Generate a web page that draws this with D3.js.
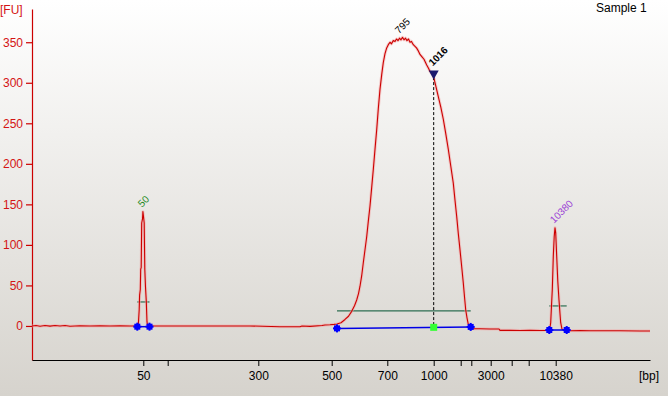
<!DOCTYPE html>
<html>
<head>
<meta charset="utf-8">
<script src="https://cdn.jsdelivr.net/npm/d3@7"></script>
<style>
  html, body { margin: 0; padding: 0; background: #fff; }
  svg { display: block; }
</style>
</head>
<body>
<svg id="chart" width="668" height="396"></svg>
<script>
// ---- Data ----
// Migration time (s) and fluorescence (FU) of the electropherogram trace
const traceTime = [
  18.0, 18.4, 18.8, 19.3, 19.8, 20.3, 20.8, 21.3, 21.8, 22.8, 23.8, 24.8, 25.8, 26.8, 27.8, 28.4,
  28.63, 28.72, 28.76, 28.83, 28.87, 28.92, 28.97, 29.05, 29.09, 29.15, 29.22, 29.28, 29.35, 29.43, 29.50, 29.56,
  29.8, 30.8, 34.8, 39.8, 42.8, 44.8, 45.0, 45.8, 47.0, 47.3, 47.8, 48.2, 48.5, 48.9, 49.3, 49.65,
  49.97, 50.25, 50.47, 50.65, 50.8, 50.97, 51.13, 51.3, 51.47, 51.63, 51.8, 51.97, 52.13, 52.3, 52.47, 52.63,
  52.8, 52.97, 53.13, 53.3, 53.47, 53.63, 53.8, 53.95, 54.13, 54.3, 54.45, 54.6, 54.75, 54.9, 55.05, 55.2,
  55.35, 55.5, 55.65, 55.8, 55.95, 56.13, 56.3, 56.45, 56.6, 56.8, 57.0, 57.2, 57.47, 57.65, 57.8, 58.0,
  58.17, 58.4, 58.63, 58.88, 59.13, 59.38, 59.63, 59.88, 60.13, 60.3, 60.47, 60.63, 60.8, 60.97, 61.13, 61.25,
  61.37, 61.5, 61.63, 61.8, 62.0, 62.8, 63.8, 64.7, 64.8, 65.8, 66.8, 67.8, 68.8, 69.5, 69.7, 69.82,
  69.87, 69.95, 70.03, 70.13, 70.22, 70.3, 70.37, 70.47, 70.58, 70.7, 70.8, 70.87, 71.0, 71.4, 71.8, 72.8,
  73.8, 74.8, 76.8, 78.8, 79.8
];
const traceFU = [
  0, 0.5, -0.3, 0.6, -0.2, 0.5, 0.0, 0.6, -0.3, 0.2, 0.0, 0.3, 0, 0.1, 0, 0,
  1, 20, 38, 45, 70, 72, 127, 132, 141, 135, 127, 70, 48, 30, 5, 0.5,
  0, 0, 0, 0, -1, -1, 0, -0.5, 0.5, 1.2, 1.5, 2, 2.5, 4, 8, 12,
  18, 25, 32, 40, 49, 62, 78, 94, 110, 129, 148, 171, 193, 218, 242, 268,
  292, 310, 325, 336, 343, 347, 350, 348, 352, 351, 354, 352, 355, 353, 356, 353,
  355, 352, 354, 350, 351, 347, 345, 343, 340, 335, 332, 329, 322, 318, 314, 311,
  307, 295, 283, 270, 255, 237, 218, 197, 176, 155, 135, 114, 94, 73, 53, 36,
  20, 10, 2, -1, -3.5, -3.5, -3.8, -3.7, -5.4, -5.4, -5.6, -5.3, -5.7, -5.4, -5.2, 0,
  4, 25, 45, 86, 110, 121, 115, 86, 55, 32, 15, 4, -4, -5.6, -6, -5.7,
  -6, -5.9, -6, -6.2, -6.2
];

// Ladder (bp) and its migration times; only some are labelled
const ladderBp = [50, 100, 300, 500, 700, 1000, 1500, 2000, 3000, 5000, 7000, 10380];
const ladderTime = [29.13, 31.57, 40.63, 47.97, 53.53, 58.17, 60.87, 61.93, 63.87, 65.97, 67.67, 70.37];
const ladderLabel = ["50", "", "300", "500", "700", "1000", "", "", "3000", "", "", "10380"];

const yTicks = [0, 50, 100, 150, 200, 250, 300, 350];

// Peak annotations
const peakName = ["50", "795", "1016", "10380"];
const peakTime = [29.1, 54.8, 58.17, 70.3];
const peakFU   = [141, 355, 315, 121];
const peakColor = ["#1f8a1f", "#000000", "#000000", "#9b3fd6"];
const peakBold  = [false, false, true, false];

// Integration regions: start/end time, baseline FU at start/end, level line FU
const regionStart = [28.53, 48.5, 69.73];
const regionEnd   = [29.75, 61.87, 71.47];
const regionBaseStart = [-0.9, -3.0, -5.0];
const regionBaseEnd   = [-0.9, -1.2, -5.0];
const regionLevel = [29.6, 18.5, 24.7];

// Selected fragment marker
const markerTime = 58.17;
const markerFU = 307;
const markerBaseFU = -1.7;

// ---- Drawing ----
const svg = d3.select("#chart");
const W = 668, H = 396;

const defs = svg.append("defs");
const grad = defs.append("linearGradient").attr("id", "bg").attr("x1", 0).attr("y1", 0).attr("x2", 0).attr("y2", 1);
grad.append("stop").attr("offset", "0%").attr("stop-color", "#ffffff");
grad.append("stop").attr("offset", "100%").attr("stop-color", "#d6d3cd");
svg.append("rect").attr("width", W).attr("height", H).attr("fill", "url(#bg)");

const x = d3.scaleLinear().domain([18, 79.8]).range([32, 650]);
const y = d3.scaleLinear().domain([-42, 391]).range([360, 9]);

const FONT = "'Liberation Sans', Arial, sans-serif";

// Y axis
const yAxis = svg.append("g").attr("transform", "translate(32,0)")
  .call(d3.axisLeft(y).tickValues(yTicks).tickSize(6).tickSizeOuter(0).tickPadding(3));
yAxis.attr("font-family", FONT).attr("font-size", 12);
yAxis.select(".domain").attr("stroke", "#cc0000").attr("stroke-width", 1.2);
yAxis.selectAll(".tick line").attr("stroke", "#cc0000").attr("stroke-width", 1.2);
yAxis.selectAll(".tick text").attr("fill", "#d41414");

// X axis
const xAxis = svg.append("g").attr("transform", "translate(0,360)")
  .call(d3.axisBottom(x).tickValues(ladderTime).tickSize(6).tickSizeOuter(0).tickPadding(5)
    .tickFormat((d, i) => ladderLabel[i]));
xAxis.attr("font-family", FONT).attr("font-size", 12);
xAxis.select(".domain").attr("stroke", "#000").attr("stroke-width", 1.2);
xAxis.selectAll(".tick line").attr("stroke", "#000");
xAxis.selectAll(".tick text").attr("fill", "#000");

// Axis titles
svg.append("text").attr("x", 0).attr("y", 13.5).attr("font-family", FONT).attr("font-size", 12)
  .attr("fill", "#d41414").text("[FU]");
svg.append("text").attr("x", 639).attr("y", 380).attr("font-family", FONT).attr("font-size", 12)
  .attr("fill", "#000").text("[bp]");
svg.append("text").attr("x", 596).attr("y", 12).attr("font-family", FONT).attr("font-size", 12)
  .attr("fill", "#000").text("Sample 1");

// Region level lines (dark green)
regionStart.forEach((s, i) => {
  svg.append("line")
    .attr("x1", x(s)).attr("x2", x(regionEnd[i]))
    .attr("y1", y(regionLevel[i])).attr("y2", y(regionLevel[i]))
    .attr("stroke", "#2e6e52").attr("stroke-width", 1.2);
});

// Trace
const pts = traceTime.map((t, i) => [t, traceFU[i]]);
const line = d3.line().x(d => x(d[0])).y(d => y(d[1]));
svg.append("path").datum(pts).attr("d", line).attr("fill", "none")
  .attr("stroke", "#f3a6a6").attr("stroke-width", 3).attr("stroke-opacity", 0.55).attr("stroke-linejoin", "round");
svg.append("path").datum(pts).attr("d", line).attr("fill", "none")
  .attr("stroke", "#cc0000").attr("stroke-width", 1.1).attr("stroke-linejoin", "round");

// Region baselines (blue)
regionStart.forEach((s, i) => {
  svg.append("line")
    .attr("x1", x(s)).attr("x2", x(regionEnd[i]))
    .attr("y1", y(regionBaseStart[i])).attr("y2", y(regionBaseEnd[i]))
    .attr("stroke", "#0000e6").attr("stroke-width", 1.5);
});

// Dashed marker line
svg.append("line")
  .attr("x1", x(markerTime)).attr("x2", x(markerTime))
  .attr("y1", y(markerFU)).attr("y2", y(markerBaseFU))
  .attr("stroke", "#000").attr("stroke-width", 1).attr("stroke-dasharray", "3,2");

// Blue region endpoint markers
function blueMarker(cx, cy) {
  svg.append("rect").attr("x", cx - 3).attr("y", cy - 3).attr("width", 6).attr("height", 6).attr("fill", "#0000ff");
  svg.append("rect").attr("x", cx - 4).attr("y", cy - 1).attr("width", 8).attr("height", 2).attr("fill", "#0000ff");
  svg.append("rect").attr("x", cx - 1).attr("y", cy - 4).attr("width", 2).attr("height", 8).attr("fill", "#0000ff");
}
regionStart.forEach((s, i) => {
  blueMarker(x(s), y(regionBaseStart[i]));
  blueMarker(x(regionEnd[i]), y(regionBaseEnd[i]));
});

// Green marker square
svg.append("rect").attr("x", x(markerTime) - 3.5).attr("y", y(markerBaseFU) - 3.5)
  .attr("width", 7).attr("height", 7).attr("fill", "#33ff33");

// Triangle marker
const tx = x(markerTime), tTop = y(peakFU[2]);
svg.append("path")
  .attr("d", `M${tx - 5},${tTop} L${tx + 5},${tTop} L${tx},${tTop + 9} Z`)
  .attr("fill", "#1a1a6e");

// Peak labels (rotated)
peakName.forEach((n, i) => {
  svg.append("text")
    .attr("transform", `translate(${x(peakTime[i]) - 1},${y(peakFU[i]) - 4}) rotate(-45)`)
    .attr("font-family", FONT).attr("font-size", 10)
    .attr("font-weight", peakBold[i] ? "bold" : "normal")
    .attr("fill", peakColor[i]).text(n);
});
</script>
</body>
</html>
